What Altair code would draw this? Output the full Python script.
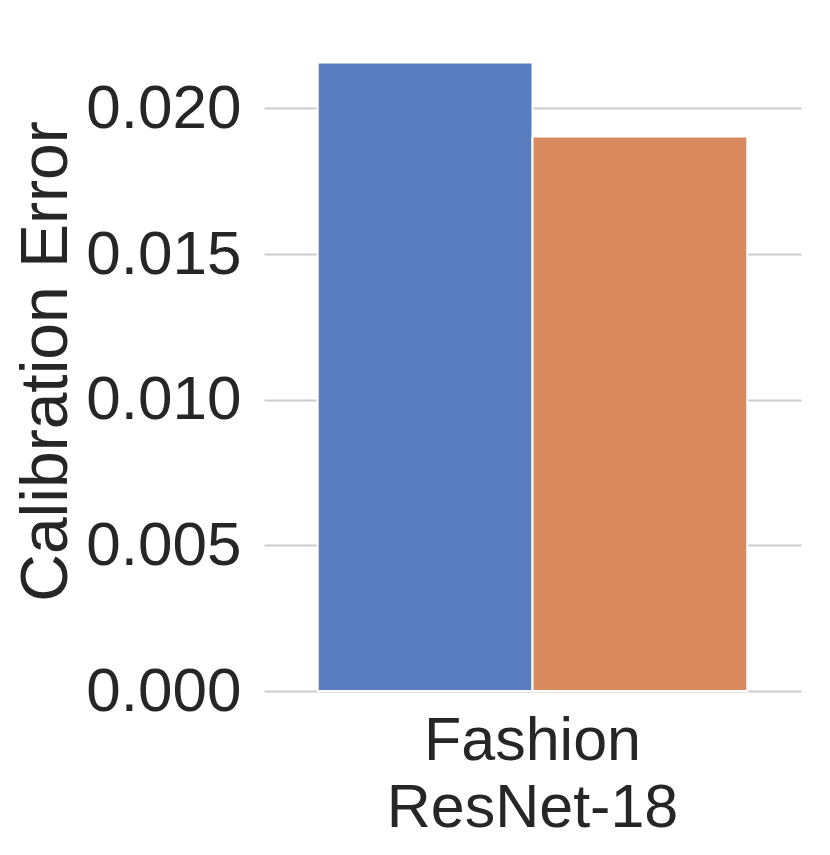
import altair as alt
import pandas as pd

datasets = ["Fashion|ResNet-18", "Fashion|ResNet-18"]
methods = ["Method A", "Method B"]
errors = [0.02158, 0.01904]
colors = ["#5a7dbf", "#d98b5f"]
y_ticks = [0.0, 0.005, 0.010, 0.015, 0.020]

df = pd.DataFrame({"dataset": datasets, "method": methods, "error": errors})

chart = (
    alt.Chart(df)
    .mark_bar(stroke="white", strokeWidth=2)
    .encode(
        x=alt.X(
            "dataset:N",
            title=None,
            scale=alt.Scale(paddingInner=0.2, paddingOuter=0.1),
            axis=alt.Axis(
                labelExpr="split(datum.value, '|')",
                labelAngle=0,
                labelLimit=0,
                labelFont="Liberation Sans",
                labelFontSize=61,
                labelColor="#262626",
                labelLineHeight=67,
                labelPadding=20,
                domain=False,
                ticks=False,
                grid=False,
            ),
        ),
        xOffset=alt.XOffset("method:N", scale=alt.Scale(paddingInner=0, paddingOuter=0)),
        y=alt.Y(
            "error:Q",
            title="Calibration Error",
            scale=alt.Scale(domain=[0, 0.02266], nice=False),
            axis=alt.Axis(
                values=y_ticks,
                format=".3f",
                labelFont="Liberation Sans",
                labelFontSize=62,
                labelColor="#262626",
                labelPadding=23,
                titleFont="Liberation Sans",
                titleFontSize=66,
                titleFontWeight="normal",
                titleColor="#262626",
                titlePadding=5,
                domain=False,
                ticks=False,
                grid=True,
                gridColor="#cccccc",
                gridWidth=2,
            ),
        ),
        color=alt.Color(
            "method:N",
            scale=alt.Scale(domain=methods, range=colors),
            legend=None,
        ),
    )
    .properties(
        width=537,
        height=660,
        padding={"left": 5, "top": 23, "right": 5, "bottom": 5},
    )
    .configure_view(stroke=None)
)

chart.save("out.html", embed_options={"renderer": "svg", "actions": False})
